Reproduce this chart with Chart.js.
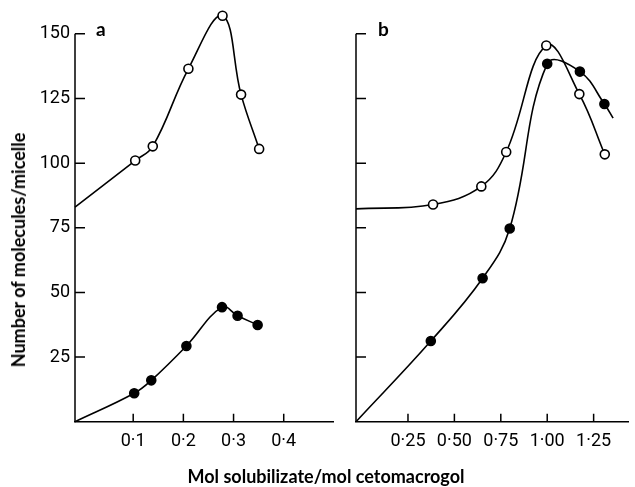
<!DOCTYPE html>
<html>
<head>
<meta charset="utf-8">
<script src="https://cdn.jsdelivr.net/npm/chart.js@4"></script>
<style>
  body { margin: 0; background: #fff; }
  #wrap { position: relative; width: 635px; height: 487px; overflow: hidden; }
  .box { position: absolute; top: 0; height: 487px; }
  .lbl { position: absolute; font-family: Lato, sans-serif; font-weight: 700; color: #000; }
</style>
</head>
<body>
<div id="wrap">
  <div class="box" style="left:0;width:340px"><canvas id="chartA"></canvas></div>
  <div class="box" style="left:340px;width:295px"><canvas id="chartB"></canvas></div>
  <div class="lbl" style="left:96px;top:17px;font-size:19px">a</div>
  <div class="lbl" style="left:378px;top:17px;font-size:19px">b</div>
  <div class="lbl" style="left:18px;top:250px;font-size:18px;white-space:nowrap;transform:translate(-50%,-50%) rotate(-90deg)">Number of molecules/micelle</div>
  <div class="lbl" style="left:326px;top:476px;font-size:18px;white-space:nowrap;transform:translate(-50%,-50%)">Mol solubilizate/mol cetomacrogol</div>
</div>
<script>
// tick values
const yTicks = [25, 50, 75, 100, 125, 150];
const xTicksA = [0.1, 0.2, 0.3, 0.4];
const xTicksB = [0.25, 0.5, 0.75, 1.0, 1.25];

// panel a, open circles (first point = where the curve meets the axis)
const aOpenX = [-0.016, 0.104, 0.139, 0.21, 0.278, 0.315, 0.351];
const aOpenY = [83, 101, 106.5, 136.5, 157, 126.5, 105.5];
const aOpenR = [0, 4.5, 4.5, 4.5, 4.5, 4.5, 4.5];
// panel a, filled circles
const aFillX = [-0.016, 0.102, 0.136, 0.206, 0.277, 0.308, 0.348];
const aFillY = [0, 11, 16, 29.3, 44.3, 41, 37.4];
const aFillR = [0, 4.5, 4.5, 4.5, 4.5, 4.5, 4.5];
// panel b, open circles
const bOpenX = [-0.03, 0.385, 0.645, 0.779, 0.995, 1.173, 1.31];
const bOpenY = [82.3, 84, 91, 104.3, 145.5, 126.7, 103.4];
const bOpenR = [0, 4.5, 4.5, 4.5, 4.5, 4.5, 4.5];
// panel b, filled circles (last point = end of drawn curve)
const bFillX = [-0.03, 0.373, 0.652, 0.798, 1.0, 1.176, 1.308, 1.355];
const bFillY = [0, 31.2, 55.5, 74.7, 138.4, 135.4, 122.9, 117.4];
const bFillR = [0, 4.5, 4.5, 4.5, 4.5, 4.5, 4.5, 0];

const tickFont = { family: 'Roboto', size: 18 };
const pts = (xs, ys) => xs.map((x, i) => ({ x: x, y: ys[i] }));
const dot = v => String(v).replace('.', '·');

function series(xs, ys, rs, open) {
  return {
    data: pts(xs, ys),
    borderColor: '#000',
    borderWidth: 1.6,
    tension: 0.4,
    pointRadius: rs,
    pointBorderWidth: 1.6,
    pointBorderColor: '#000',
    pointBackgroundColor: open ? '#fff' : '#000',
    clip: false
  };
}

// y axis line (0 to 150 only) and short inward tick marks
const innerTicks = {
  id: 'innerTicks',
  afterDraw(chart) {
    const c = chart.ctx, xs = chart.scales.x, ys = chart.scales.y;
    c.save();
    c.strokeStyle = '#000';
    c.lineWidth = 1.5;
    c.beginPath();
    c.moveTo(ys.right, ys.getPixelForValue(0));
    c.lineTo(ys.right, ys.getPixelForValue(yTicks[yTicks.length - 1]));
    xs.ticks.forEach(t => {
      const p = xs.getPixelForValue(t.value);
      c.moveTo(p, xs.top); c.lineTo(p, xs.top - 8);
    });
    ys.ticks.forEach(t => {
      const p = ys.getPixelForValue(t.value);
      c.moveTo(ys.right, p); c.lineTo(ys.right + 10, p);
    });
    c.stroke();
    c.restore();
  }
};

function opts(xmin, xmax, xt, yw, showY, decimals, padR) {
  return {
    responsive: true,
    maintainAspectRatio: false,
    animation: false,
    layout: { padding: { top: 8, right: padR, bottom: 0, left: 0 } },
    plugins: { legend: { display: false }, tooltip: { enabled: false } },
    scales: {
      x: {
        type: 'linear', min: xmin, max: xmax,
        afterBuildTicks: s => { s.ticks = xt.map(v => ({ value: v })); },
        afterFit: s => { s.height = 65.3; },
        grid: { display: false, drawTicks: false },
        border: { display: true, color: '#000', width: 1.5 },
        ticks: { font: tickFont, color: '#000', padding: 9, maxRotation: 0,
                 callback: v => dot(v.toFixed(decimals)) }
      },
      y: {
        type: 'linear', min: 0, max: 160,
        afterBuildTicks: s => { s.ticks = yTicks.map(v => ({ value: v })); },
        afterFit: s => { s.width = yw; s.paddingTop = 0; s.paddingBottom = 0; },
        grid: { display: false, drawTicks: false },
        border: { display: false },
        ticks: { font: tickFont, color: '#000', padding: 5,
                 callback: v => showY ? String(v) : '' }
      }
    }
  };
}

new Chart(document.getElementById('chartA'), {
  type: 'line',
  data: { datasets: [
    series(aOpenX, aOpenY, aOpenR, true),
    series(aFillX, aFillY, aFillR, false)
  ] },
  options: opts(-0.016, 0.5, xTicksA, 75, true, 1, 3),
  plugins: [innerTicks]
});

new Chart(document.getElementById('chartB'), {
  type: 'line',
  data: { datasets: [
    series(bOpenX, bOpenY, bOpenR, true),
    series(bFillX, bFillY, bFillR, false)
  ] },
  options: opts(-0.03, 1.44, xTicksB, 16, false, 2, 0),
  plugins: [innerTicks]
});
</script>
</body>
</html>
